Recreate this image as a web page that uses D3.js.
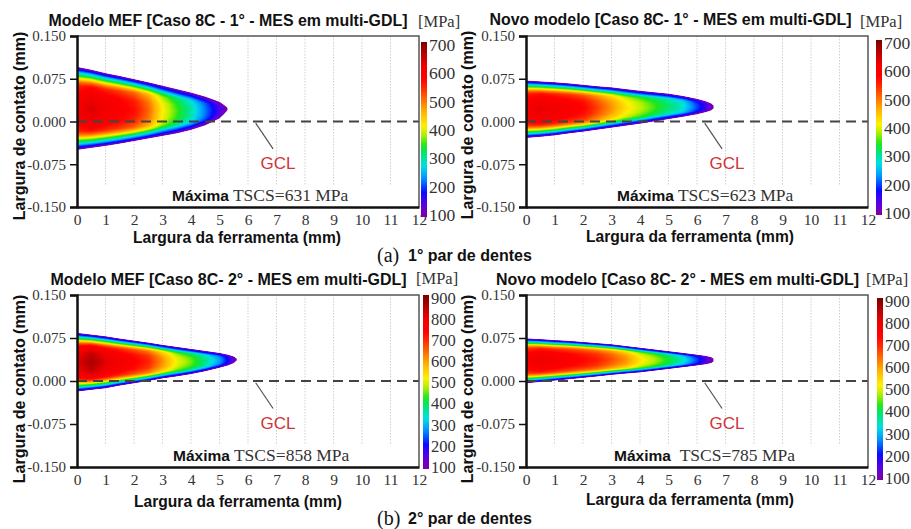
<!DOCTYPE html>
<html>
<head>
<meta charset="utf-8">
<script src="https://cdn.jsdelivr.net/npm/d3@7"></script>
<style>
  body { margin: 0; background: #fff; }
  svg { display: block; }
</style>
</head>
<body>
<svg id="chart" width="911" height="529"></svg>
<script>
// ---------------- data ----------------
const xTicks = [0, 1, 2, 3, 4, 5, 6, 7, 8, 9, 10, 11, 12];
const yTicks = [0.150, 0.075, 0.000, -0.075, -0.150];
const barTicks700 = [100, 200, 300, 400, 500, 600, 700];
const barTicks900 = [100, 200, 300, 400, 500, 600, 700, 800, 900];

// stress fraction across the contact width (0 = ridge, 1 = contact edge)
const profileT = [0, 0.30, 0.55, 0.65, 0.73, 0.80, 0.87, 0.93, 1];
const profileF = [1, 0.97, 0.88, 0.76, 0.60, 0.45, 0.32, 0.18, 0];

// (a) FEM model, 1st tooth pair
const xsA   = [0, 0.5, 1, 1.5, 2, 2.5, 3, 3.5, 4, 4.5, 5, 5.15, 5.28];
const topA  = [0.095, 0.090, 0.084, 0.079, 0.0735, 0.068, 0.062, 0.056, 0.050, 0.043, 0.034, 0.029, 0.024];
const botA  = [-0.049, -0.0455, -0.042, -0.038, -0.0335, -0.029, -0.0245, -0.020, -0.014, -0.006, 0.006, 0.013, 0.020];
const peakA = [605, 631, 610, 590, 565, 510, 415, 355, 300, 225, 150, 125, 100];

// (a) new model, 1st tooth pair
const xsB   = [0, 0.5, 1, 1.5, 2, 2.5, 3, 3.5, 4, 4.5, 5, 5.5, 6, 6.3, 6.5, 6.58];
const topB  = [0.071, 0.0695, 0.068, 0.066, 0.0635, 0.061, 0.059, 0.056, 0.053, 0.0505, 0.048, 0.044, 0.039, 0.035, 0.031, 0.028];
const botB  = [-0.028, -0.026, -0.0235, -0.020, -0.017, -0.0135, -0.010, -0.0065, -0.003, 0.001, 0.005, 0.009, 0.0135, 0.017, 0.020, 0.023];
const peakB = [605, 623, 610, 595, 575, 530, 480, 425, 390, 355, 320, 285, 205, 160, 120, 100];

// (b) FEM model, 2nd tooth pair
const xsC   = [0, 0.5, 1, 1.5, 2, 2.5, 3, 3.5, 4, 4.5, 5, 5.3, 5.5, 5.6];
const topC  = [0.083, 0.080, 0.077, 0.073, 0.0695, 0.066, 0.062, 0.0585, 0.055, 0.0515, 0.048, 0.045, 0.042, 0.039];
const botC  = [-0.0175, -0.0145, -0.0117, -0.007, -0.003, 0.001, 0.0055, 0.009, 0.013, 0.018, 0.024, 0.028, 0.032, 0.036];
const peakC = [800, 858, 805, 775, 740, 700, 610, 510, 455, 380, 290, 200, 140, 100];

// (b) new model, 2nd tooth pair
const xsD   = [0, 0.5, 1, 1.5, 2, 2.5, 3, 3.5, 4, 4.5, 5, 5.5, 6, 6.3, 6.5, 6.57];
const topD  = [0.0733, 0.072, 0.0703, 0.069, 0.067, 0.065, 0.063, 0.060, 0.057, 0.054, 0.051, 0.048, 0.045, 0.043, 0.041, 0.039];
const botD  = [-0.003, -0.0007, 0.0017, 0.004, 0.0065, 0.009, 0.0117, 0.014, 0.016, 0.019, 0.022, 0.025, 0.028, 0.030, 0.032, 0.034];
const peakD = [760, 785, 770, 750, 730, 705, 660, 610, 530, 480, 420, 350, 240, 170, 125, 100];

const titles = [
  "Modelo MEF [Caso 8C - 1° - MES em multi-GDL]",
  "Novo modelo [Caso 8C- 1° - MES em multi-GDL]",
  "Modelo MEF [Caso 8C- 2° - MES em multi-GDL]",
  "Novo modelo [Caso 8C- 2° - MES em multi-GDL]"
];
const maxStress = [631, 623, 858, 785];
const barMax = [700, 700, 900, 900];
const captions = [["(a)", "1° par de dentes"], ["(b)", "2° par de dentes"]];

// ---------------- styling / layout ----------------
const SANS = "'Liberation Sans', Arial, sans-serif";
const SERIF = "'Liberation Serif', 'Times New Roman', serif";

const cmap = d3.scaleLinear()
  .domain([0, .07, .14, .22, .29, .36, .41, .47, .52, .60, .67, .74, .79, .86, .93, 1])
  .range(["#80009f", "#5a00e6", "#0a0aff", "#0090ff", "#00e0e6", "#00e676", "#1ee61e",
          "#b4f000", "#fff000", "#ffb400", "#ff6e00", "#ff2800", "#ff0000", "#f00000", "#b80000", "#780000"])
  .clamp(true);

const layout = [
  { plot: [77, 419, 36, 207],   bar: { x: 421, lo: 215, hi: 45 },  title: { cx: 228, y: 20, len: 359 }, unit: { x: 418, y: 21 },  ylab: { x: 19, y: 126 },  xlab: { x: 237, y: 238 }, maxi: { x: 172, y: 195 } },
  { plot: [526, 868, 36, 207],  bar: { x: 876, lo: 213, hi: 43 },  title: { cx: 670.5, y: 19, len: 362 }, unit: { x: 860, y: 21 },  ylab: { x: 467, y: 125 }, xlab: { x: 690, y: 237 }, maxi: { x: 617, y: 195 } },
  { plot: [77, 419, 295, 467],  bar: { x: 423, lo: 467, hi: 298 }, title: { cx: 228.5, y: 279, len: 356 }, unit: { x: 416, y: 278 }, ylab: { x: 19, y: 389 },  xlab: { x: 238, y: 502 }, maxi: { x: 173, y: 455 } },
  { plot: [526, 868, 295, 467], bar: { x: 877, lo: 478, hi: 301 }, title: { cx: 677.5, y: 279, len: 363 }, unit: { x: 866, y: 279 }, ylab: { x: 467, y: 389 }, xlab: { x: 690, y: 500 }, maxi: { x: 614, y: 455 } }
];

const fields = [
  { xs: xsA, top: topA, bot: botA, peak: peakA },
  { xs: xsB, top: topB, bot: botB, peak: peakB },
  { xs: xsC, top: topC, bot: botC, peak: peakC },
  { xs: xsD, top: topD, bot: botD, peak: peakD }
];

const svg = d3.select("#chart");
const defs = svg.append("defs");
const profile = d3.scaleLinear().domain(profileT).range(profileF).clamp(true);

// stress field sampled on a regular grid, then turned into filled iso-bands
function stressGrid(f, dx, dy, yMax, nx, ny) {
  const topS = d3.scaleLinear().domain(f.xs).range(f.top).clamp(true);
  const botS = d3.scaleLinear().domain(f.xs).range(f.bot).clamp(true);
  const peakS = d3.scaleLinear().domain(f.xs).range(f.peak).clamp(true);
  const tip = f.xs[f.xs.length - 1];
  const values = new Float64Array(nx * ny);
  for (let j = 0; j < ny; j++) {
    const yv = yMax - (j + 0.5) * dy;
    for (let i = 0; i < nx; i++) {
      const xv = (i + 0.5) * dx;
      const xc = Math.min(xv, tip);
      const t = topS(xc), b = botS(xc), p = peakS(xc);
      const c = (t + b) / 2, h = Math.max((t - b) / 2, 1e-6);
      const tt = Math.abs(yv - c) / h;
      let v = tt <= 1 ? 100 + (p - 100) * profile(tt) : 100 - 300 * (tt - 1);
      if (xv > tip) v -= 2000 * (xv - tip);
      values[j * nx + i] = v;
    }
  }
  return values;
}

layout.forEach((L, k) => {
  const [px0, px1, py0, py1] = L.plot;
  const x = d3.scaleLinear().domain([0, 12]).range([px0, px1]);
  const y = d3.scaleLinear().domain([-0.15, 0.15]).range([py1, py0]);
  const g = svg.append("g");
  const vmax = barMax[k];

  const clipId = "clip" + k;
  defs.append("clipPath").attr("id", clipId)
    .append("rect").attr("x", px0).attr("y", py0).attr("width", px1 - px0).attr("height", py1 - py0);

  // dotted vertical grid
  g.append("g").selectAll("line").data(xTicks.slice(1, -1)).join("line")
    .attr("x1", d => x(d)).attr("x2", d => x(d))
    .attr("y1", y(0.15)).attr("y2", y(-0.112))
    .attr("stroke", "#cfcfcf").attr("stroke-width", 1).attr("stroke-dasharray", "1.5,1.5");

  // contact stress bands
  const f = fields[k];
  const dx = 0.02, dy = 0.0006, yMax = 0.11, yMin = -0.065;
  const tip = f.xs[f.xs.length - 1];
  const nx = Math.ceil((tip + 0.3) / dx), ny = Math.ceil((yMax - yMin) / dy);
  const values = stressGrid(f, dx, dy, yMax, nx, ny);
  const step = 5;
  const thresholds = d3.range(100, d3.max(f.peak) + step, step);
  thresholds[0] = 99.5;
  const bands = d3.contours().size([nx, ny]).thresholds(thresholds)(values);
  const proj = d3.geoTransform({
    point(cx, cy) { this.stream.point(x(cx * dx), y(yMax - cy * dy)); }
  });
  const path = d3.geoPath(proj);
  const bandColor = d => cmap((Math.max(d.value, 100) + step / 2 - 100) / (vmax - 100));
  g.append("g").attr("clip-path", `url(#${clipId})`)
    .selectAll("path").data(bands).join("path")
    .attr("d", path)
    .attr("fill", bandColor)
    .attr("stroke", bandColor)
    .attr("stroke-width", 0.3);

  // contact line (GCL)
  g.append("line")
    .attr("x1", x(0)).attr("x2", x(12)).attr("y1", y(0)).attr("y2", y(0))
    .attr("stroke", "#444").attr("stroke-width", 2).attr("stroke-dasharray", "10,6");

  // frame
  g.append("path")
    .attr("d", `M${px0},${py0}H${px1}V${py1}`)
    .attr("fill", "none").attr("stroke", "#555").attr("stroke-width", 1.5);

  // axes
  const yAxis = d3.axisLeft(y).tickValues(yTicks).tickFormat(d => d.toFixed(3)).tickSize(7).tickPadding(4);
  const ya = g.append("g").attr("transform", `translate(${px0},0)`).call(yAxis);
  ya.select(".domain").attr("stroke", "#111").attr("stroke-width", 2.5);
  ya.selectAll(".tick line").attr("stroke", "#111").attr("stroke-width", 1.5);
  ya.selectAll("text").attr("font-family", SERIF).attr("font-size", 15).attr("fill", "#333");

  const xAxis = d3.axisBottom(x).tickValues(xTicks).tickFormat(d3.format("d")).tickSize(0).tickPadding(7);
  const xa = g.append("g").attr("transform", `translate(0,${py1})`).call(xAxis);
  xa.select(".domain").attr("stroke", "#111").attr("stroke-width", 2.5);
  xa.selectAll("text").attr("font-family", SERIF).attr("font-size", 15.5).attr("fill", "#333");

  // axis titles
  g.append("text").attr("x", L.xlab.x).attr("y", L.xlab.y).attr("dy", "0.35em")
    .attr("text-anchor", "middle").attr("font-family", SANS).attr("font-weight", "bold")
    .attr("font-size", 15.6).attr("fill", "#111").text("Largura da ferramenta (mm)");
  g.append("text").attr("transform", `translate(${L.ylab.x},${L.ylab.y}) rotate(-90)`).attr("dy", "0.35em")
    .attr("text-anchor", "middle").attr("font-family", SANS).attr("font-weight", "bold")
    .attr("font-size", 16).attr("fill", "#111").text("Largura de contato (mm)");

  // panel title
  g.append("text").attr("x", L.title.cx).attr("y", L.title.y).attr("dy", "0.35em")
    .attr("text-anchor", "middle").attr("font-family", SANS).attr("font-weight", "bold")
    .attr("font-size", 16).attr("fill", "#111")
    .attr("textLength", L.title.len).attr("lengthAdjust", "spacingAndGlyphs")
    .text(titles[k]);
  g.append("text").attr("x", L.unit.x).attr("y", L.unit.y).attr("dy", "0.35em")
    .attr("font-family", SERIF).attr("font-size", 16.5).attr("fill", "#333").text("[MPa]");

  // GCL annotation
  g.append("line")
    .attr("x1", x(6.27)).attr("y1", y(-0.003)).attr("x2", x(6.88)).attr("y2", y(-0.048))
    .attr("stroke", "#555").attr("stroke-width", 1.2);
  g.append("text").attr("x", x(7.05)).attr("y", y(-0.073)).attr("dy", "0.35em")
    .attr("text-anchor", "middle").attr("font-family", SANS).attr("font-size", 17)
    .attr("fill", "#d0333a").text("GCL");

  // maximum stress note
  const mt = g.append("text").attr("x", L.maxi.x).attr("y", L.maxi.y).attr("dy", "0.35em").attr("fill", "#111");
  mt.append("tspan").attr("font-family", SANS).attr("font-weight", "bold").attr("font-size", 15.5).text("Máxima");
  mt.append("tspan").attr("font-family", SERIF).attr("font-size", 17.5).attr("fill", "#333")
    .text((k === 3 ? "\u2002" : " ") + "TSCS=" + maxStress[k] + " MPa");

  // colour bar
  const ticks = vmax === 700 ? barTicks700 : barTicks900;
  const cb = d3.scaleLinear().domain([100, vmax]).range([L.bar.lo, L.bar.hi]);
  const gradId = "grad" + k;
  const grad = defs.append("linearGradient").attr("id", gradId)
    .attr("x1", 0).attr("x2", 0).attr("y1", 1).attr("y2", 0);
  d3.range(0, 1.0001, 0.02).forEach(t => {
    grad.append("stop").attr("offset", t).attr("stop-color", cmap(t));
  });
  g.append("rect").attr("x", L.bar.x).attr("width", 6)
    .attr("y", cb(vmax) - 3).attr("height", cb(100) - cb(vmax) + 5)
    .attr("fill", `url(#${gradId})`);
  g.append("g").selectAll("text").data(ticks).join("text")
    .attr("x", L.bar.x + 8).attr("y", d => cb(d)).attr("dy", "0.35em")
    .attr("font-family", SERIF).attr("font-size", vmax === 900 ? 16.5 : 17.5).attr("fill", "#333")
    .text(d => d);
});

// sub-figure captions
[[255], [518]].forEach(([cy], i) => {
  svg.append("text").attr("x", 377).attr("y", cy).attr("dy", "0.35em")
    .attr("font-family", SERIF).attr("font-size", 20).attr("fill", "#111").text(captions[i][0]);
  svg.append("text").attr("x", 408).attr("y", cy).attr("dy", "0.35em")
    .attr("font-family", SANS).attr("font-weight", "bold").attr("font-size", 16).attr("fill", "#111")
    .text(captions[i][1]);
});
</script>
</body>
</html>
